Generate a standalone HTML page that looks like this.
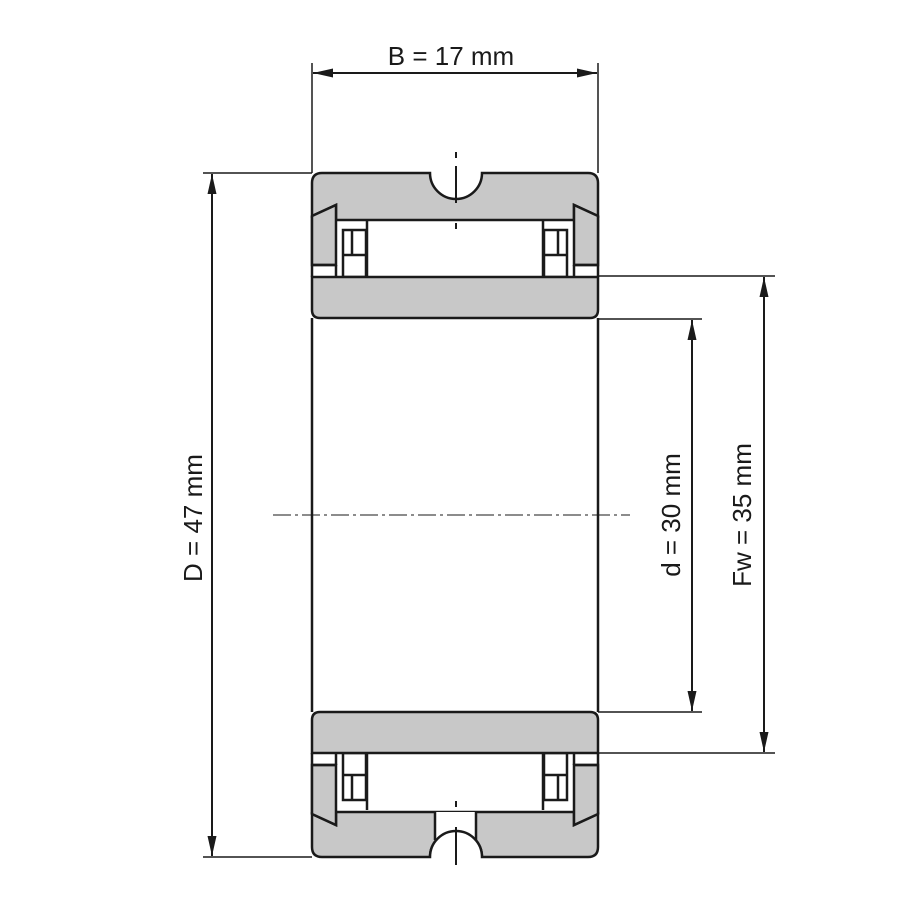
<!DOCTYPE html>
<html><head><meta charset="utf-8"><style>html,body{margin:0;padding:0;background:#fff}svg{display:block}</style></head>
<body>
<svg width="900" height="900" viewBox="0 0 900 900" xmlns="http://www.w3.org/2000/svg">
<defs>
<g id="cage">
  <path d="M312,216 L336,205 L336,265 L312,265 Z" fill="#c8c8c8" stroke="#1a1a1a" stroke-width="2.5"/>
  <line x1="312" y1="265" x2="336" y2="265" stroke="#1a1a1a" stroke-width="2.5"/>
  <line x1="336" y1="265" x2="336" y2="277" stroke="#1a1a1a" stroke-width="2.5"/>
  <rect x="343" y="230" width="23" height="47" fill="#fff" stroke="#1a1a1a" stroke-width="2.5"/>
  <line x1="343" y1="255" x2="366" y2="255" stroke="#1a1a1a" stroke-width="2.5"/>
  <line x1="352" y1="230" x2="352" y2="255" stroke="#1a1a1a" stroke-width="2.5"/>
  <line x1="367" y1="220" x2="367" y2="277" stroke="#1a1a1a" stroke-width="2.5"/>
</g>
<marker id="a" viewBox="0 0 20 10" refX="20" refY="5" markerWidth="20" markerHeight="10" markerUnits="userSpaceOnUse" orient="auto-start-reverse"><path d="M0,0.5 L20,5 L0,9.5 Z" fill="#1a1a1a"/></marker>
</defs>
<g stroke="#1a1a1a" stroke-width="2.5" fill="none">
<line x1="312" y1="318" x2="312" y2="712"/>
<line x1="598" y1="318" x2="598" y2="712"/>
</g>
<path d="M322,173 L430,173 A26,26 0 0 0 482,173 L588,173 Q598,173 598,183 L598,216 L574,205 L574,220 L336,220 L336,205 L312,216 L312,183 Q312,173 322,173 Z" fill="#c8c8c8" stroke="#1a1a1a" stroke-width="2.5"/>
<line x1="312" y1="216" x2="312" y2="277" stroke="#1a1a1a" stroke-width="2.5"/>
<line x1="598" y1="216" x2="598" y2="277" stroke="#1a1a1a" stroke-width="2.5"/>
<use href="#cage"/>
<use href="#cage" transform="translate(910,0) scale(-1,1)"/>
<path d="M312,277 L598,277 L598,310 Q598,318 590,318 L320,318 Q312,318 312,310 Z" fill="#c8c8c8" stroke="#1a1a1a" stroke-width="2.5"/>
<g transform="translate(0,1030) scale(1,-1)">
  <path d="M322,173 L430,173 A26,26 0 0 0 482,173 L588,173 Q598,173 598,183 L598,216 L574,205 L574,218 L336,218 L336,205 L312,216 L312,183 Q312,173 322,173 Z" fill="#c8c8c8" stroke="#1a1a1a" stroke-width="2.5"/>
  <rect x="435" y="173" width="41" height="45" fill="#fff"/>
  <path d="M435,190 L435,218 M476,190 L476,218" stroke="#1a1a1a" stroke-width="2.5"/>
  <path d="M430,173 A26,26 0 0 0 482,173" fill="#fff" stroke="#1a1a1a" stroke-width="2.5"/>
  <line x1="312" y1="216" x2="312" y2="277" stroke="#1a1a1a" stroke-width="2.5"/>
  <line x1="598" y1="216" x2="598" y2="277" stroke="#1a1a1a" stroke-width="2.5"/>
  <use href="#cage"/>
  <use href="#cage" transform="translate(910,0) scale(-1,1)"/>
  <path d="M312,277 L598,277 L598,310 Q598,318 590,318 L320,318 Q312,318 312,310 Z" fill="#c8c8c8" stroke="#1a1a1a" stroke-width="2.5"/>
</g>
<g stroke="#1a1a1a" stroke-width="1.5" fill="none">
<line x1="312" y1="63" x2="312" y2="173"/>
<line x1="598" y1="63" x2="598" y2="173"/>
<line x1="203" y1="173" x2="312" y2="173"/>
<line x1="203" y1="857" x2="312" y2="857"/>
<line x1="598" y1="319" x2="702" y2="319"/>
<line x1="598" y1="712" x2="702" y2="712"/>
<line x1="598" y1="276" x2="775" y2="276"/>
<line x1="598" y1="753" x2="775" y2="753"/>
<line x1="313" y1="73" x2="597" y2="73" marker-start="url(#a)" marker-end="url(#a)" stroke-width="2"/>
<line x1="212" y1="174" x2="212" y2="856" marker-start="url(#a)" marker-end="url(#a)" stroke-width="2"/>
<line x1="692" y1="320" x2="692" y2="711" marker-start="url(#a)" marker-end="url(#a)" stroke-width="2"/>
<line x1="764" y1="277" x2="764" y2="752" marker-start="url(#a)" marker-end="url(#a)" stroke-width="2"/>
<line x1="273" y1="515" x2="630" y2="515" stroke-dasharray="18,4,3,4" stroke-width="1"/>
</g>
<g stroke="#1a1a1a" stroke-width="2">
<line x1="456" y1="152" x2="456" y2="158"/>
<line x1="456" y1="166" x2="456" y2="203"/>
<line x1="456" y1="223" x2="456" y2="229"/>
<line x1="456" y1="801" x2="456" y2="807"/>
<line x1="456" y1="827" x2="456" y2="865"/>
</g>
<g font-family="Liberation Sans, sans-serif" font-size="26" fill="#1a1a1a" text-anchor="middle">
<text x="451" y="65">B = 17 mm</text>
<text transform="translate(202,518) rotate(-90)">D = 47 mm</text>
<text transform="translate(680,515) rotate(-90)">d = 30 mm</text>
<text transform="translate(751,515) rotate(-90)">Fw = 35 mm</text>
</g>
</svg>
</body></html>
